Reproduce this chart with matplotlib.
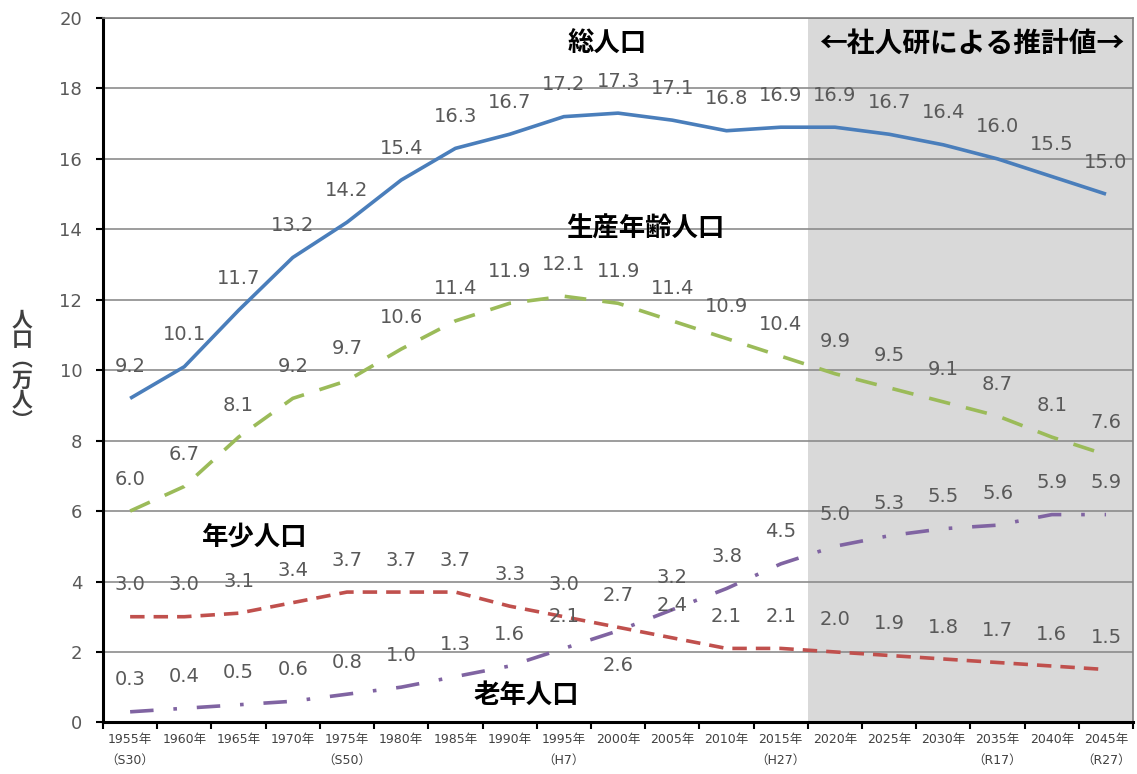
import numpy as np
import matplotlib
matplotlib.use('Agg')
import matplotlib.pyplot as plt

plt.rcParams['font.family'] = ['DejaVu Sans', 'Noto Sans CJK JP']

# Data
years = ['1955年', '1960年', '1965年', '1970年', '1975年', '1980年', '1985年',
         '1990年', '1995年', '2000年', '2005年', '2010年', '2015年', '2020年',
         '2025年', '2030年', '2035年', '2040年', '2045年']
eras = ['（S30）', '', '', '', '（S50）', '', '', '', '（H7）', '', '', '',
        '（H27）', '', '', '', '（R17）', '', '（R27）']
total = [9.2, 10.1, 11.7, 13.2, 14.2, 15.4, 16.3, 16.7, 17.2, 17.3, 17.1,
         16.8, 16.9, 16.9, 16.7, 16.4, 16.0, 15.5, 15.0]
working = [6.0, 6.7, 8.1, 9.2, 9.7, 10.6, 11.4, 11.9, 12.1, 11.9, 11.4,
           10.9, 10.4, 9.9, 9.5, 9.1, 8.7, 8.1, 7.6]
youth = [3.0, 3.0, 3.1, 3.4, 3.7, 3.7, 3.7, 3.3, 3.0, 2.7, 2.4,
         2.1, 2.1, 2.0, 1.9, 1.8, 1.7, 1.6, 1.5]
elderly = [0.3, 0.4, 0.5, 0.6, 0.8, 1.0, 1.3, 1.6, 2.1, 2.6, 3.2,
           3.8, 4.5, 5.0, 5.3, 5.5, 5.6, 5.9, 5.9]
n_actual = 13  # 2020年以降は推計値

x = np.arange(len(years))

fig = plt.figure(figsize=(11.37, 7.74), dpi=100)
ax = fig.add_axes([0.0906, 0.0667, 0.906, 0.91])

# 推計値の背景
ax.axvspan(n_actual - 0.5, len(years) - 0.5, color='#d9d9d9', zorder=0, lw=0)

ax.set_xlim(-0.5, len(years) - 0.5)
ax.set_ylim(0, 20)
ax.set_yticks(np.arange(0, 21, 2))
ax.grid(axis='y', color='#8c8c8c', lw=1.2, zorder=1)
ax.set_axisbelow(True)

lw = 2.6
ax.plot(x, total, color='#4a7ebb', lw=lw, solid_capstyle='butt', zorder=3)
ax.plot(x, working, color='#9bbb59', lw=lw, dashes=(6, 4.5), dash_capstyle='butt', zorder=3)
ax.plot(x, youth, color='#c0504d', lw=lw, dashes=(4, 2.5), dash_capstyle='butt', zorder=3)
ax.plot(x, elderly, color='#8064a2', lw=lw, dashes=(6.5, 5.5, 1, 5.5), dash_capstyle='butt', zorder=3)

# データラベル
lab_kw = dict(ha='center', va='center', fontsize=14, color='#595959', zorder=4)
for series in [total, working, youth, elderly]:
    for i, v in enumerate(series):
        off = 23
        if series is elderly and i == 9:
            off = -25
        ax.annotate('{:.1f}'.format(v), (i, v), xytext=(0, off),
                    textcoords='offset points', **lab_kw)

# 系列名
name_kw = dict(ha='center', va='center', fontsize=19, fontweight='bold',
               color='black', family=['Noto Sans CJK JP'], zorder=5)
ax.text(8.8, 19.24, '総人口', **name_kw)
ax.text(9.5, 14.0, '生産年齢人口', **name_kw)
ax.text(2.3, 5.26, '年少人口', **name_kw)
ax.text(7.3, 0.78, '老年人口', **name_kw)
ax.text(15.53, 19.24, '←社人研による推計値→', ha='center', va='center',
        fontsize=20, fontweight='bold', color='black',
        family=['Noto Sans CJK JP'], zorder=5)

# 軸
ax.set_xticks(x)
ax.set_xticklabels([y + ('\n' + e if e else '') for y, e in zip(years, eras)],
                   fontsize=9, color='#404040', family=['DejaVu Sans', 'Noto Sans CJK JP'],
                   linespacing=1.7)
ax.tick_params(axis='x', which='major', length=0, pad=8)
ax.set_xticks(np.arange(-0.5, len(years), 1), minor=True)
ax.tick_params(axis='x', which='minor', length=5, width=1.5, direction='out', color='black')
ax.tick_params(axis='y', length=5, width=1.5, direction='out', labelsize=13,
               labelcolor='#595959', pad=10)

for s in ['left', 'bottom']:
    ax.spines[s].set_color('black')
    ax.spines[s].set_linewidth(2.2)
for s in ['top', 'right']:
    ax.spines[s].set_color('#7f7f7f')
    ax.spines[s].set_linewidth(1.2)

fig.text(22 / 1137, 1 - 370 / 774, '人\n口\n︵\n万\n人\n︶', ha='center', va='center',
         fontsize=15, fontweight='bold', color='#404040', family=['Noto Sans CJK JP'],
         linespacing=0.95)

fig.savefig('out.png', dpi=100)
